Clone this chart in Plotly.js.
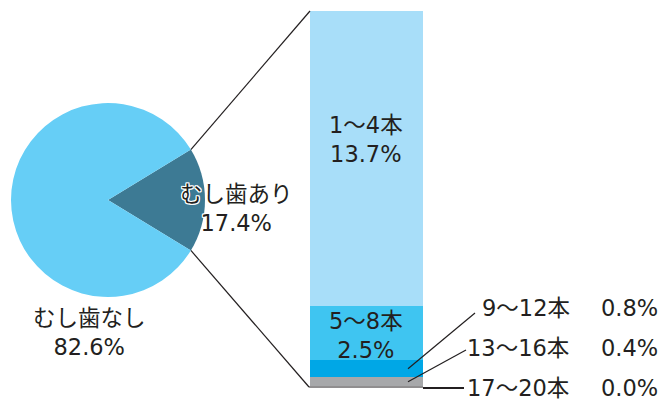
<!DOCTYPE html>
<html><head><meta charset="utf-8">
<script src="https://cdn.plot.ly/plotly-3.0.1.min.js"></script>
<style>html,body{margin:0;padding:0;background:#fff}</style>
</head><body><div id="chart" style="width:661px;height:404px"></div>
<script>
// ---- data ----
const pieLabels = ['むし歯あり', 'むし歯なし'];
const pieValues = [17.4, 82.6];
const barCategories = ['1～4本', '5～8本', '9～12本', '13～16本', '17～20本'];
const barValues = [13.7, 2.5, 0.8, 0.4, 0.0];

// ---- layout helpers (pixels) ----
const W = 661, H = 404;
const px = x => x / W, py = y => 1 - y / H;
const pieC = {x: 108, y: 200}, pieR = 97;
const bar = {x0: 310, x1: 423, y0: 11, y1: 386};
const pieTotal = pieValues.reduce((a, b) => a + b, 0);
const barTotal = barValues.reduce((a, b) => a + b, 0);
const yPix = v => bar.y1 - v / barTotal * (bar.y1 - bar.y0);
// centre of each segment (value measured from bottom; first category on top)
const mid = barValues.map((v, i) => barValues.slice(i + 1).reduce((a, b) => a + b, 0) + v / 2);

const FONT = "'DejaVu Sans', 'Noto Sans CJK JP', sans-serif";
const TXT = '#231F20';
const halo = '1px 1px 0 #fff, -1px -1px 0 #fff, 1px -1px 0 #fff, -1px 1px 0 #fff, 0 1px 0 #fff, 0 -1px 0 #fff, 1px 0 0 #fff, -1px 0 0 #fff';

const pieColors = ['#3D7A94', '#66CEF6'];
const barColors = ['#A8DEF9', '#3FC5F1', '#00A7E6', '#A7A8AA', '#A7A8AA'];

const traces = [{
  type: 'pie', labels: pieLabels, values: pieValues, sort: false,
  direction: 'clockwise', rotation: 90 - pieValues[0] / pieTotal * 180,
  marker: {colors: pieColors, line: {width: 0}},
  textinfo: 'none', hoverinfo: 'none', showlegend: false,
  domain: {x: [px(pieC.x - pieR), px(pieC.x + pieR)], y: [py(pieC.y + pieR), py(pieC.y - pieR)]}
}];
for (let i = barCategories.length - 1; i >= 0; i--) traces.push({
  type: 'bar', x: [0], y: [barValues[i]], name: barCategories[i],
  marker: {color: barColors[i], line: {width: 0}}, hoverinfo: 'none', showlegend: false
});

const half = pieValues[0] / pieTotal * Math.PI;
const eTop = {x: pieC.x + pieR * Math.cos(half), y: pieC.y - pieR * Math.sin(half)};
const eBot = {x: pieC.x + pieR * Math.cos(half), y: pieC.y + pieR * Math.sin(half)};
const L = (x0, y0, x1, y1, w) => ({type: 'line', xref: 'paper', yref: 'paper',
  x0: px(x0), y0: py(y0), x1: px(x1), y1: py(y1), line: {color: TXT, width: w || 1.2}});

const shapes = [
  L(eTop.x, eTop.y, bar.x0, bar.y0),
  L(eBot.x, eBot.y, bar.x0 - 1, bar.y1 + 1),
  L(bar.x0 - 1, bar.y1 + 1, bar.x1, bar.y1 + 1, 1.2),
  L(bar.x1, bar.y1 + 2, 464, bar.y1 + 2, 2),
  L(408, yPix(mid[2]), 475, 313),
  L(408, yPix(mid[3]), 466, 350)
];

const A = (text, x, y, xa, extra) => Object.assign({text, xref: 'paper', yref: 'paper',
  x: px(x), y: py(y), xanchor: xa || 'center', yanchor: 'middle', showarrow: false,
  font: {family: FONT, size: 22.5, color: TXT}}, extra || {});

const annotations = [
  A(pieLabels[0] + '<br>' + pieValues[0].toFixed(1) + '%', 236, 208, 'center', {font: {family: FONT, size: 22.5, color: TXT, shadow: halo}}),
  A(pieLabels[1] + '<br>' + pieValues[1].toFixed(1) + '%', 89, 332),
  A(barCategories[0] + '<br>' + barValues[0].toFixed(1) + '%', 366, 139),
  A(barCategories[1] + '<br>' + barValues[1].toFixed(1) + '%', 366, 335),
  A(barCategories[2], 480, 308, 'left'),
  A(barValues[2].toFixed(1) + '%', 660, 308, 'right'),
  A(barCategories[3], 465, 348, 'left'),
  A(barValues[3].toFixed(1) + '%', 660, 348, 'right'),
  A(barCategories[4], 465, 388, 'left'),
  A(barValues[4].toFixed(1) + '%', 660, 388, 'right')
];

const layout = {
  width: W, height: H, margin: {l: 0, r: 0, t: 0, b: 0},
  paper_bgcolor: '#fff', plot_bgcolor: 'rgba(0,0,0,0)',
  barmode: 'stack', bargap: 0,
  xaxis: {domain: [px(bar.x0), px(bar.x1)], range: [-0.5, 0.5], visible: false, fixedrange: true},
  yaxis: {domain: [py(bar.y1), py(bar.y0)], range: [0, barTotal], visible: false, fixedrange: true},
  shapes, annotations, font: {family: FONT}
};
Plotly.newPlot('chart', traces, layout, {staticPlot: true});
</script></body></html>
